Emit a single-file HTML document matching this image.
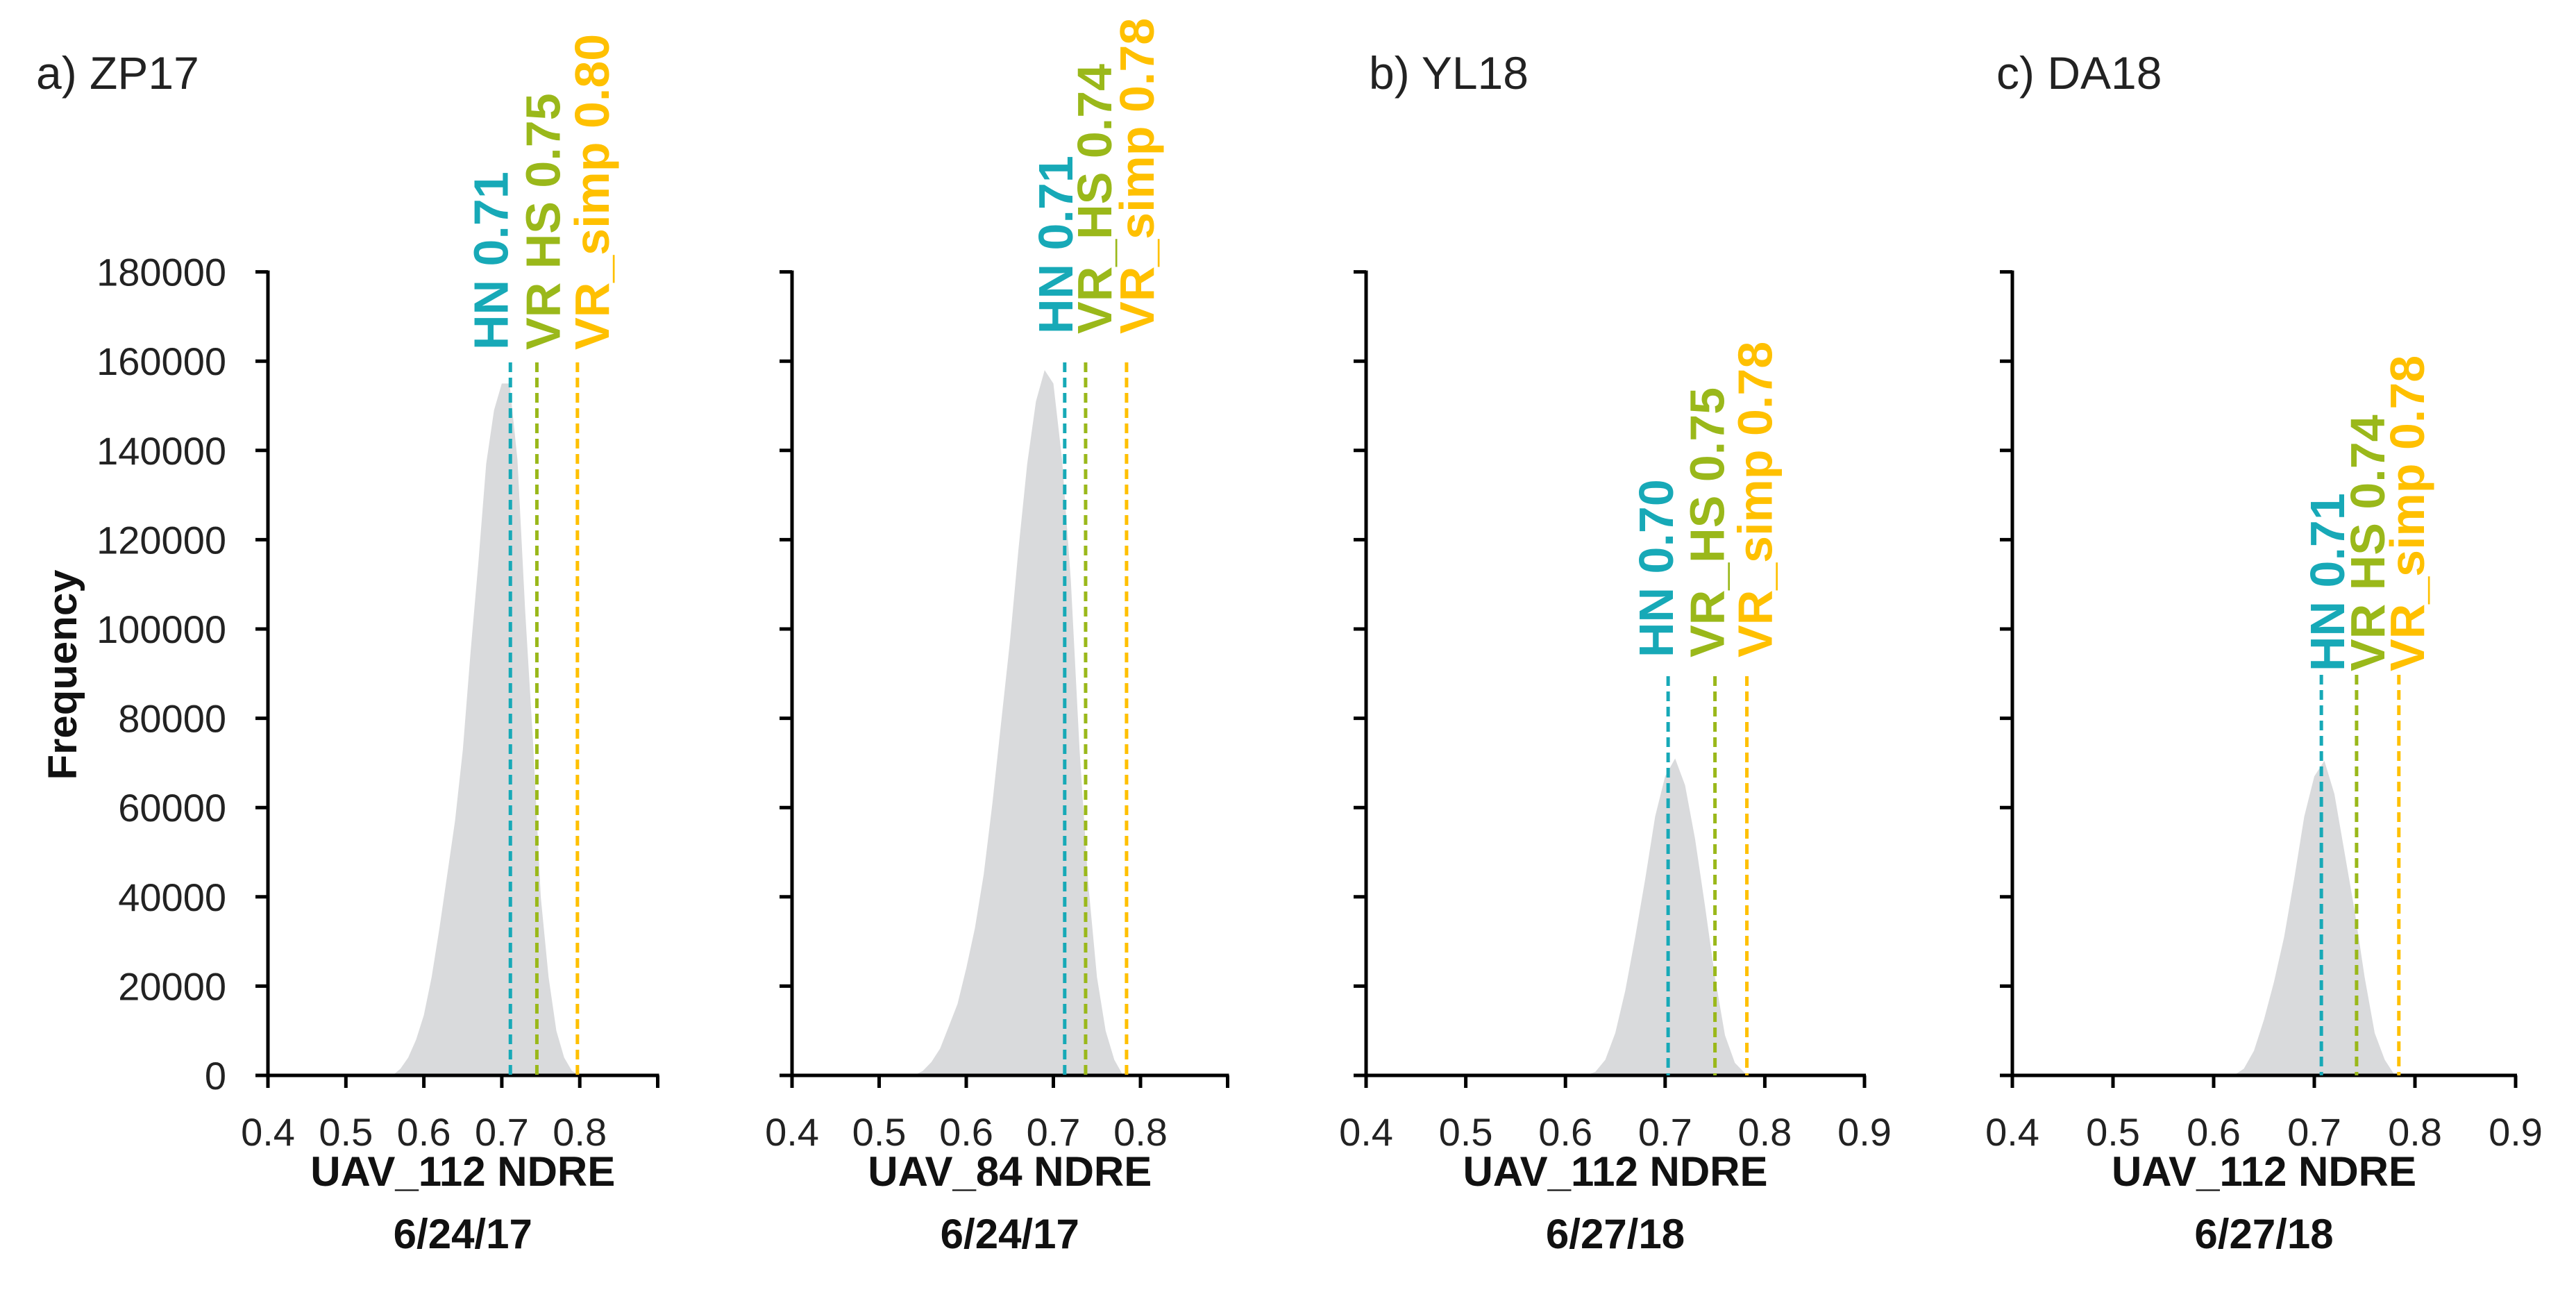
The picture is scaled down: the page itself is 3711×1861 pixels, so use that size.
<!DOCTYPE html>
<html><head><meta charset="utf-8">
<style>
html,body{margin:0;padding:0;background:#fff;}
svg{display:block;font-family:"Liberation Sans",sans-serif;}
</style></head>
<body>
<svg id="chart" width="3711" height="1861" viewBox="0 0 3711 1861" xmlns="http://www.w3.org/2000/svg">
<rect width="3711" height="1861" fill="#fff"/>
<text x="52" y="128" font-size="66" fill="#222">a) ZP17</text>
<text x="1972" y="128" font-size="66" fill="#222">b) YL18</text>
<text x="2876" y="128" font-size="66" fill="#222">c) DA18</text>
<text transform="translate(110,972) rotate(-90)" text-anchor="middle" font-size="58" font-weight="bold" fill="#111" textLength="303" lengthAdjust="spacingAndGlyphs">Frequency</text>
</svg>
<script>
// ---- data ----
const yTicks = [0,20000,40000,60000,80000,100000,120000,140000,160000,180000];
const xTicks = [0.4,0.5,0.6,0.7,0.8,0.9];
const p1Bins = [0.56,0.57,0.58,0.59,0.60,0.61,0.62,0.63,0.64,0.65,0.66,0.67,0.68,0.69,0.70,0.71,0.72,0.73,0.74,0.75,0.76,0.77,0.78,0.79,0.80];
const p1Freq = [0,1500,4000,8000,13500,22000,33000,45000,57000,73000,95000,115000,137000,149000,155000,155000,138000,104000,75000,40000,22000,10000,4000,1000,0];
const p2Bins = [0.54,0.55,0.56,0.57,0.58,0.59,0.60,0.61,0.62,0.63,0.64,0.65,0.66,0.67,0.68,0.69,0.70,0.71,0.72,0.73,0.74,0.75,0.76,0.77,0.78];
const p2Freq = [0,1000,3000,6000,11000,16000,24000,33000,45000,61000,79000,97000,118000,137000,151000,158000,155000,138000,111000,73000,43000,22000,10000,3500,0];
const p3Bins = [0.62,0.63,0.64,0.65,0.66,0.67,0.68,0.69,0.70,0.71,0.72,0.73,0.74,0.75,0.76,0.77,0.78,0.79];
const p3Freq = [0,800,3500,9500,19000,31000,44000,58000,67000,71000,65000,53000,38000,22000,9000,2800,500,0];
const p4Bins = [0.62,0.63,0.64,0.65,0.66,0.67,0.68,0.69,0.70,0.71,0.72,0.73,0.74,0.75,0.76,0.77,0.78];
const p4Freq = [0,1500,5500,12500,21000,31000,44000,58000,67000,70500,63000,50000,37000,22000,9500,3500,0];
const p1Thresh = [0.711,0.745,0.797];
const p2Thresh = [0.713,0.737,0.784];
const p3Thresh = [0.703,0.750,0.782];
const p4Thresh = [0.707,0.742,0.784];
const p1Labels = ["HN 0.71","VR  HS 0.75","VR_simp 0.80"];
const p2Labels = ["HN 0.71","VR_HS 0.74","VR_simp 0.78"];
const p3Labels = ["HN 0.70","VR_HS 0.75","VR_simp 0.78"];
const p4Labels = ["HN 0.71","VR  HS 0.74","VR_simp 0.78"];
const methodNames = ["hn","vr-hs","vr-simp"];
const xAxisTitles = ["UAV_112 NDRE","UAV_84 NDRE","UAV_112 NDRE","UAV_112 NDRE"];
const dateLabels = ["6/24/17","6/24/17","6/27/18","6/27/18"];

// ---- layout ----
const colors = ["#17A9B7","#9AB81A","#FFC000"];
const Y0 = 1549, PX_PER_20K = 128.6;
const panels = [
  {ax:386,  step:1123, bins:p1Bins, freq:p1Freq, th:p1Thresh, lab:p1Labels, lineTop:522, labBottom:504, off:[-4,33,45], lastLabel:0.8, yLabels:true},
  {ax:1141, step:1255, bins:p2Bins, freq:p2Freq, th:p2Thresh, lab:p2Labels, lineTop:522, labBottom:481, off:[11,37,39], lastLabel:0.8, yLabels:false},
  {ax:1968, step:1436, bins:p3Bins, freq:p3Freq, th:p3Thresh, lab:p3Labels, lineTop:974, labBottom:947, off:[7,13,36], lastLabel:0.9, yLabels:false},
  {ax:2899, step:1450, bins:p4Bins, freq:p4Freq, th:p4Thresh, lab:p4Labels, lineTop:972, labBottom:967, off:[33,40,36], lastLabel:0.9, yLabels:false}
];
const svg = document.getElementById('chart');
const NS = "http://www.w3.org/2000/svg";
function mk(tag, attrs){const e=document.createElementNS(NS,tag);for(const k in attrs)e.setAttribute(k,attrs[k]);return e;}
function yS(v){return Y0 - v/20000*PX_PER_20K;}

panels.forEach((p,pi)=>{
  const xS = v => p.ax + (v-0.4)*p.step;
  const g = mk('g',{});
  
  
  svg.appendChild(g);
  let d = 'M'+xS(p.bins[0])+','+Y0;
  p.bins.forEach((b,i)=>{ d += ' L'+xS(b).toFixed(1)+','+yS(p.freq[i]).toFixed(1); });
  d += ' L'+xS(p.bins[p.bins.length-1])+','+Y0+' Z';
  const area = mk('path',{d:d, fill:'#D9DADC'});
  
  
  g.appendChild(area);
  const xEnd = xS(0.9);
  const yAx = mk('line',{x1:p.ax,y1:yS(180000)-2,x2:p.ax,y2:Y0+2,stroke:'#000','stroke-width':5});
  
  
  g.appendChild(yAx);
  const xAx = mk('line',{x1:p.ax-18,y1:Y0,x2:xEnd+2,y2:Y0,stroke:'#000','stroke-width':5});
  
  
  g.appendChild(xAx);
  yTicks.forEach(t=>{
    const tk = mk('line',{x1:p.ax-18,y1:yS(t),x2:p.ax,y2:yS(t),stroke:'#000','stroke-width':5});
    
    
    g.appendChild(tk);
    if(p.yLabels){
      const tl = mk('text',{x:p.ax-60,y:yS(t)+20,'text-anchor':'end','font-size':56,fill:'#222'});
      tl.textContent = t;
      
      
      g.appendChild(tl);
    }
  });
  xTicks.forEach(t=>{
    const tk = mk('line',{x1:xS(t),y1:Y0,x2:xS(t),y2:Y0+18,stroke:'#000','stroke-width':5});
    
    
    g.appendChild(tk);
    if(t <= p.lastLabel+1e-9){
      const tl = mk('text',{x:xS(t),y:1650,'text-anchor':'middle','font-size':56,fill:'#222'});
      tl.textContent = t.toFixed(1);
      
      
      g.appendChild(tl);
    }
  });
  const cx = xS(0.65);
  const t1 = mk('text',{x:cx,y:1708,'text-anchor':'middle','font-size':60,'font-weight':'bold',fill:'#111'});
  t1.textContent = xAxisTitles[pi];
  
  
  g.appendChild(t1);
  const t2 = mk('text',{x:cx,y:1798,'text-anchor':'middle','font-size':60,'font-weight':'bold',fill:'#111'});
  t2.textContent = dateLabels[pi];
  
  
  g.appendChild(t2);
  p.th.forEach((v,i)=>{
    const lx = xS(v);
    const ln = mk('line',{x1:lx,y1:p.lineTop,x2:lx,y2:Y0,stroke:colors[i],'stroke-width':5,'stroke-dasharray':'14 8'});
    
    
    g.appendChild(ln);
    const bx = lx + p.off[i];
    const lt = mk('text',{transform:'translate('+bx+','+p.labBottom+') rotate(-90)','font-size':70,'font-weight':'bold',fill:colors[i]});
    lt.textContent = p.lab[i];
    
    
    g.appendChild(lt);
  });
});
</script>
</body></html>
